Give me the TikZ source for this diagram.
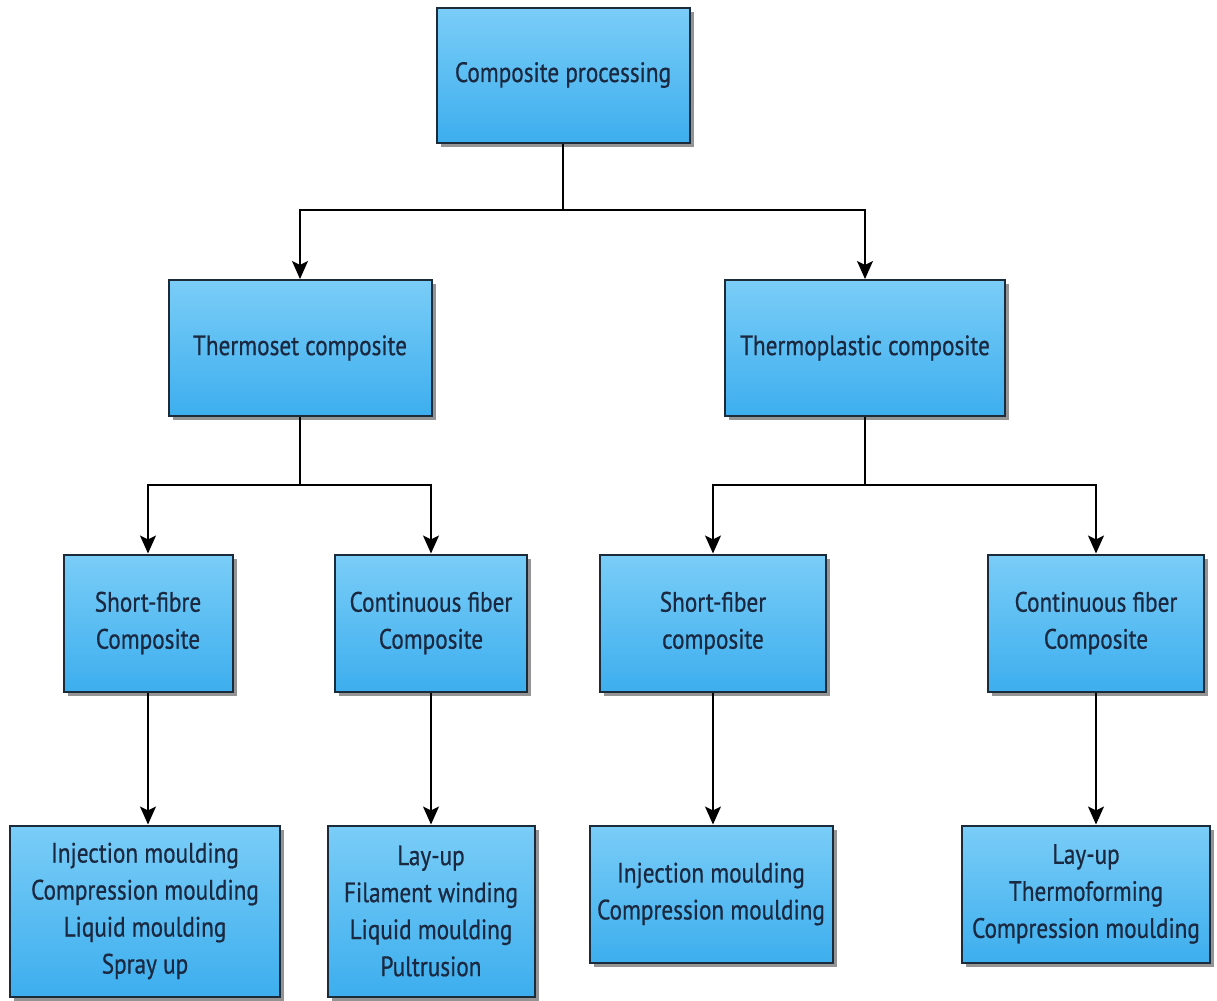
\documentclass[tikz,border=0pt]{standalone}
\usepackage{fontspec}
\setmainfont[FakeStretch=0.83,FakeBold=0.6]{PT Sans}
\usepackage{xcolor}
\usetikzlibrary{arrows.meta,shadows,calc,positioning}

\definecolor{boxtop}{HTML}{7ACDF7}
\definecolor{boxbot}{HTML}{3DAEEE}
\definecolor{boxline}{HTML}{1C2B3A}
\definecolor{boxtext}{HTML}{1A2840}

\tikzset{
  block/.style={draw=boxline, line width=1pt, rectangle, top color=boxtop,
    bottom color=boxbot, text=boxtext, align=center,
    font=\fontsize{14}{18.5}\selectfont,
    drop shadow={shadow xshift=2pt, shadow yshift=-2pt, fill=black!60, opacity=.7}},
  link/.style={line width=0.7pt, black},
  arrow/.style={link, -{Stealth[length=9pt,width=8pt,inset=2pt]}}
}

\begin{document}
\begin{tikzpicture}[x=0.5pt,y=-0.5pt]
\useasboundingbox (0,0) rectangle (1217,1001);
  % top
  \node[block, minimum width=126.5pt, minimum height=67.5pt] (root) at (563,75) {Composite processing};
  % second level
  \node[block, minimum width=131.5pt, minimum height=68pt] (thermoset) at (300,348) {Thermoset composite};
  \node[block, minimum width=140pt, minimum height=68pt] (thermoplastic) at (865,348) {Thermoplastic composite};
  % third level
  \node[block, minimum width=84.5pt, minimum height=68.5pt] (tsshort) at (148,623) {Short-fibre\\Composite};
  \node[block, minimum width=96pt, minimum height=68.5pt] (tscont) at (431,623) {Continuous fiber\\Composite};
  \node[block, minimum width=113pt, minimum height=68.5pt] (tpshort) at (713,623) {Short-fiber\\composite};
  \node[block, minimum width=108pt, minimum height=68.5pt] (tpcont) at (1096,623) {Continuous fiber\\Composite};
  % processes
  \node[block, minimum width=135pt, minimum height=85.5pt] (tsshortproc) at (145,911) {Injection moulding\\Compression moulding\\Liquid moulding\\Spray up};
  \node[block, minimum width=103.5pt, minimum height=85.5pt] (tscontproc) at (431,911) {Lay-up\\Filament winding\\Liquid moulding\\Pultrusion};
  \node[block, minimum width=121.5pt, minimum height=68.5pt] (tpshortproc) at (711,894) {Injection moulding\\Compression moulding};
  \node[block, minimum width=124pt, minimum height=68.5pt] (tpcontproc) at (1086,894) {Lay-up\\Thermoforming\\Compression moulding};

  \coordinate (split) at (563,210);
  \coordinate (tssplit) at (300,485);
  \coordinate (tpsplit) at (865,485);

  \draw[link] (root) -- (split);
  \draw[arrow] (split) -| (thermoset);
  \draw[arrow] (split) -| (thermoplastic);
  \draw[link] (thermoset) -- (tssplit);
  \draw[arrow] (tssplit) -| (tsshort);
  \draw[arrow] (tssplit) -| (tscont);
  \draw[link] (thermoplastic) -- (tpsplit);
  \draw[arrow] (tpsplit) -| (tpshort);
  \draw[arrow] (tpsplit) -| (tpcont);
  \draw[arrow] (tsshort) -- (tsshort |- tsshortproc.north);
  \draw[arrow] (tscont) -- (tscont |- tscontproc.north);
  \draw[arrow] (tpshort) -- (tpshort |- tpshortproc.north);
  \draw[arrow] (tpcont) -- (tpcont |- tpcontproc.north);
\end{tikzpicture}
\end{document}
